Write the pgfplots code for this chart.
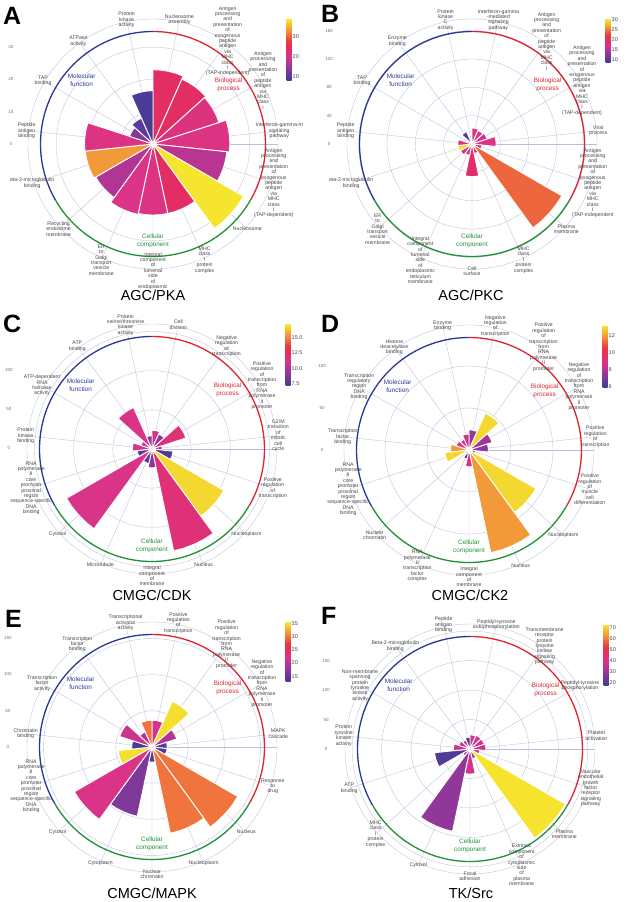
\documentclass[border=0pt]{standalone}
\usepackage{pgfplots}
\pgfplotsset{compat=1.18}
\usepgfplotslibrary{polar}
\usepackage{fontspec}
\setmainfont{Liberation Sans}
\definecolor{gridc}{RGB}{188,188,222}
\definecolor{mfc}{RGB}{40,55,150}
\definecolor{bpc}{RGB}{222,35,45}
\definecolor{ccc}{RGB}{30,145,55}
\definecolor{labc}{RGB}{70,70,70}
\definecolor{tickc}{RGB}{110,110,110}
\pgfplotsset{
  colormap={kin}{rgb255(0cm)=(60,60,150) rgb255(2cm)=(140,55,155) rgb255(4cm)=(218,52,138) rgb255(5.5cm)=(228,45,95) rgb255(6.5cm)=(232,62,62) rgb255(8cm)=(242,140,60) rgb255(10cm)=(245,235,45)},
  rose/.style={
    scale only axis, width=250pt, height=250pt, anchor=center, clip=false,
    xmin=0, xmax=360, ymin=0,
    xtick={6,30,54,78,102,126,150,174,198,222,246,270,294,318,342},
    xticklabels={}, yticklabels={},
    xmajorgrids, ymajorgrids,
    grid style={draw=gridc, line width=0.35pt},
    axis line style={draw=gridc, line width=0.35pt},
    major tick length=0pt,
    colormap name=kin,
    colorbar,
  },
  cbar/.style={scale only axis, width=5pt, height=#1, anchor=north west,
     axis line style={draw=none}, major tick length=0pt,
     yticklabel style={font=\fontsize{5.5}{6}\selectfont, text=labc, inner sep=1pt},
     /pgf/number format/assume math mode=true},
}
\tikzset{
  catlab/.style={font=\fontsize{5.2}{5.4}\selectfont, text=labc, align=center, inner sep=0pt},
  grplab/.style={font=\fontsize{6.4}{8}\selectfont, align=center, inner sep=0pt},
  rtick/.style={font=\fontsize{4.5}{5}\selectfont, text=tickc, inner sep=0pt},
  ttl/.style={font=\fontsize{14.5}{15}\selectfont, anchor=base, inner sep=0pt},
  plet/.style={font=\fontsize{25}{25}\selectfont\bfseries, anchor=base west, inner sep=0pt},
}
\newcommand\wbar[3]{%
  \pgfmathsetmacro\wrA{#1-12}\pgfmathsetmacro\wrB{#1-6}\pgfmathsetmacro\wrC{#1+6}\pgfmathsetmacro\wrD{#1+12}%
  \pgfmathsetmacro\wrF{max(0,min(1000,(#3-\cmin)/(\cmax-\cmin)*1000))}%
  \edef\wrT{\noexpand\addplot[mark=none,color of colormap={\wrF\space of kin},fill=.,draw=white,line width=0.9pt] coordinates {(0,0) (\wrA,#2) (\wrB,#2) (#1,#2) (\wrC,#2) (\wrD,#2)} -- cycle;}%
  \wrT}
\newcommand\cl[2]{\path (axis cs:0,0) ++(#1:127pt) node[catlab] {#2};}
\newcommand\groups{%
  \draw[mfc, line width=1.3pt] (axis cs:0,0) ++(90:112.5pt) arc[start angle=90,end angle=210,radius=112.5pt];
  \draw[bpc, line width=1.3pt] (axis cs:0,0) ++(90:112.5pt) arc[start angle=90,end angle=-30,radius=112.5pt];
  \draw[ccc, line width=1.3pt] (axis cs:0,0) ++(-30:112.5pt) arc[start angle=-30,end angle=-150,radius=112.5pt];
  \path (axis cs:0,0) ++(138:96pt) node[grplab, text=mfc] {Molecular\\function};
  \path (axis cs:0,0) ++(38:96pt) node[grplab, text=bpc] {Biological\\process};
  \path (axis cs:0,0) ++(-90:97pt) node[grplab, text=ccc] {Cellular\\component};
}
\begin{document}
\begin{tikzpicture}[x=1pt,y=1pt]
\useasboundingbox (0pt,0pt) rectangle (633pt,902pt);

% ---------------- A
\def\cmin{7.8}\def\cmax{38.9}
\begin{polaraxis}[rose, at={(153pt,758pt)}, ymax=38.7, ytick={10,20,30},
  point meta min=7.8, point meta max=38.9,
  colorbar style={cbar=62pt, at={([xshift=21pt,yshift=-93pt]parent axis.north east)}, ytick={10,20,30}}]
\wbar{78}{23.0}{24.5}
\wbar{54}{22.0}{24.5}
\wbar{30}{21.5}{21.5}
\wbar{6}{23.8}{21}
\wbar{342}{23.0}{17.5}
\wbar{318}{32.4}{38.5}
\wbar{294}{22.0}{24.5}
\wbar{270}{22.0}{21}
\wbar{246}{22.3}{20.5}
\wbar{222}{20.5}{17}
\wbar{198}{21.1}{33.5}
\wbar{174}{21.2}{21}
\wbar{150}{7.6}{13.5}
\wbar{126}{8.8}{10.5}
\wbar{102}{16.5}{9}
\groups
\cl{102}{Protein\\kinase\\activity}
\cl{78}{Nucleosome\\assembly}
\cl{54}{Antigen\\processing\\and\\presentation\\of\\exogenous\\peptide\\antigen\\via\\MHC\\class\\I\\(TAP-independent)}
\cl{30}{Antigen\\processing\\and\\presentation\\of\\peptide\\antigen\\via\\MHC\\class\\I}
\cl{6}{Interferon-gamma-m\\signaling\\pathway}
\cl{-18}{Antigen\\processing\\and\\presentation\\of\\exogenous\\peptide\\antigen\\via\\MHC\\class\\I\\(TAP-dependent)}
\cl{-42}{Nucleosome}
\cl{-66}{MHC\\class\\I\\protein\\complex}
\cl{-90}{Integral\\component\\of\\lumenal\\side\\of\\endoplasmic}
\cl{-114}{ER\\to\\Golgi\\transport\\vesicle\\membrane}
\cl{-138}{Recycling\\endosome\\membrane}
\cl{-162}{eta-2-microglobulin\\binding}
\cl{174}{Peptide\\antigen\\binding}
\cl{150}{TAP\\binding}
\cl{126}{ATPase\\activity}
\end{polaraxis}

% ---------------- B
\def\cmin{8.5}\def\cmax{30.5}
\begin{polaraxis}[rose, at={(472pt,758pt)}, ymax=176.5, ytick={40,80,120,160},
  point meta min=8.5, point meta max=30.5,
  colorbar style={cbar=44pt, at={([xshift=28pt,yshift=-113pt]parent axis.north east)}, ytick={10,15,20,25,30}}]
\wbar{78}{22.6}{17.5}
\wbar{54}{21}{18}
\wbar{30}{22.6}{16.5}
\wbar{6}{34}{17.5}
\wbar{342}{14}{20}
\wbar{318}{146.5}{24.5}
\wbar{294}{14}{20}
\wbar{270}{46}{20}
\wbar{246}{16.5}{18}
\wbar{222}{19}{18}
\wbar{198}{20}{30}
\wbar{174}{20}{18}
\wbar{150}{7}{17}
\wbar{126}{19}{9.5}
\wbar{102}{6}{12}
\groups
\cl{102}{Protein\\kinase\\C\\activity}
\cl{78}{Interferon-gamma\\-mediated\\signaling\\pathway}
\cl{54}{Antigen\\processing\\and\\presentation\\of\\peptide\\antigen\\via\\MHC\\class\\I}
\cl{30}{Antigen\\processing\\and\\presentation\\of\\exogenous\\peptide\\antigen\\via\\MHC\\class\\I\\(TAP-dependent)}
\cl{6}{Viral\\process}
\cl{-18}{Antigen\\processing\\and\\presentation\\of\\exogenous\\peptide\\antigen\\via\\MHC\\class\\I\\(TAP-independent}
\cl{-42}{Plasma\\membrane}
\cl{-66}{MHC\\class\\I\\protein\\complex}
\cl{-90}{Cell\\surface}
\cl{-114}{Integral\\component\\of\\lumenal\\side\\of\\endoplasmic\\reticulum\\membrane}
\cl{-138}{ER\\to\\Golgi\\transport\\vesicle\\membrane}
\cl{-162}{eta-2-microglobulin\\binding}
\cl{174}{Peptide\\antigen\\binding}
\cl{150}{TAP\\binding}
\cl{126}{Enzyme\\binding}
\end{polaraxis}

% ---------------- C
\def\cmin{7.1}\def\cmax{17.2}
\begin{polaraxis}[rose, at={(152pt,453pt)}, ymax=159.6, ytick={50,100,150},
  point meta min=7.1, point meta max=17.2,
  colorbar style={cbar=62pt, at={([xshift=18pt,yshift=-94pt]parent axis.north east)}, ytick={7.5,10,12.5,15},
    yticklabel style={/pgf/number format/.cd, fixed, fixed zerofill, precision=1}}]
\wbar{78}{24}{11}
\wbar{54}{21}{9.3}
\wbar{30}{45.5}{11.8}
\wbar{6}{13}{11}
\wbar{342}{27}{7.5}
\wbar{318}{106}{16.8}
\wbar{294}{133}{11.8}
\wbar{270}{24}{9}
\wbar{246}{19}{8}
\wbar{222}{126}{11.2}
\wbar{198}{19}{7.8}
\wbar{174}{25}{11}
\wbar{150}{15}{11}
\wbar{126}{58}{11.3}
\wbar{102}{17}{9}
\groups
\cl{102}{Protein\\serine/threonine\\kinase\\activity}
\cl{78}{Cell\\division}
\cl{54}{Negative\\regulation\\of\\transcription}
\cl{30}{Positive\\regulation\\of\\transcription\\from\\RNA\\polymerase\\II\\promoter}
\cl{6}{G2/M\\transition\\of\\mitotic\\cell\\cycle}
\cl{-18}{Positive\\regulation\\of\\transcription}
\cl{-42}{Nucleoplasm}
\cl{-66}{Nucleus}
\cl{-90}{Integral\\component\\of\\membrane}
\cl{-114}{Microtubule}
\cl{-138}{Cytosol}
\cl{-162}{RNA\\polymerase\\II\\core\\promoter\\proximal\\region\\sequence-specific\\DNA\\binding}
\cl{174}{Protein\\kinase\\binding}
\cl{150}{ATP-dependent\\RNA\\helicase\\activity}
\cl{126}{ATP\\binding}
\end{polaraxis}

% ---------------- D
\def\cmin{5.8}\def\cmax{13.3}
\begin{polaraxis}[rose, at={(469pt,452pt)}, ymax=148.8, ytick={50,100},
  point meta min=5.8, point meta max=13.3,
  colorbar style={cbar=63pt, at={([xshift=20pt,yshift=-93pt]parent axis.north east)}, ytick={6,8,10,12}}]
\wbar{78}{24}{7.5}
\wbar{54}{48}{13}
\wbar{30}{29}{7.8}
\wbar{6}{23}{7.3}
\wbar{342}{8}{7}
\wbar{318}{92}{13}
\wbar{294}{125}{12}
\wbar{270}{20}{9}
\wbar{246}{11}{6.5}
\wbar{222}{6}{7}
\wbar{198}{29}{13}
\wbar{174}{22}{12}
\wbar{150}{16}{8.8}
\wbar{126}{14}{8.7}
\wbar{102}{19}{8.5}
\groups
\cl{102}{Enzyme\\binding}
\cl{78}{Negative\\regulation\\of\\transcription}
\cl{54}{Positive\\regulation\\of\\transcription\\from\\RNA\\polymerase\\II\\promoter}
\cl{30}{Negative\\regulation\\of\\transcription\\from\\RNA\\polymerase\\II\\promoter}
\cl{6}{Positive\\regulation\\of\\transcription}
\cl{-18}{Positive\\regulation\\of\\muscle\\cell\\differentiation}
\cl{-42}{Nucleoplasm}
\cl{-66}{Nucleus}
\cl{-90}{Integral\\component\\of\\membrane}
\cl{-114}{RNA\\polymerase\\II\\transcription\\factor\\complex}
\cl{-138}{Nuclear\\chromatin}
\cl{-162}{RNA\\polymerase\\II\\core\\promoter\\proximal\\region\\sequence-specific\\DNA\\binding}
\cl{174}{Transcription\\factor\\binding}
\cl{150}{Transcription\\regulatory\\region\\DNA\\binding}
\cl{126}{Histone\\deacetylase\\binding}
\end{polaraxis}

% ---------------- E
\def\cmin{12.8}\def\cmax{35.6}
\begin{polaraxis}[rose, at={(152pt,155pt)}, ymax=172.9, ytick={50,100,150},
  point meta min=12.8, point meta max=35.6,
  colorbar style={cbar=60pt, at={([xshift=16pt,yshift=-95pt]parent axis.north east)}, ytick={15,20,25,30,35}}]
\wbar{78}{37}{21.5}
\wbar{54}{69}{35}
\wbar{30}{36}{19.5}
\wbar{6}{21}{14}
\wbar{342}{21}{14}
\wbar{318}{137}{30}
\wbar{294}{122}{30}
\wbar{270}{21}{14.5}
\wbar{246}{98}{16.5}
\wbar{222}{124}{22}
\wbar{198}{47}{35}
\wbar{174}{28}{13.5}
\wbar{150}{47}{21}
\wbar{126}{23}{20}
\wbar{102}{37}{30}
\groups
\cl{102}{Transcriptional\\activator\\activity}
\cl{78}{Positive\\regulation\\of\\transcription}
\cl{54}{Positive\\regulation\\of\\transcription\\from\\RNA\\polymerase\\II\\promoter}
\cl{30}{Negative\\regulation\\of\\transcription\\from\\RNA\\polymerase\\II\\promoter}
\cl{6}{MAPK\\cascade}
\cl{-18}{Response\\to\\drug}
\cl{-42}{Nucleus}
\cl{-66}{Nucleoplasm}
\cl{-90}{Nuclear\\chromatin}
\cl{-114}{Cytoplasm}
\cl{-138}{Cytosol}
\cl{-162}{RNA\\polymerase\\II\\core\\promoter\\proximal\\region\\sequence-specific\\DNA\\binding}
\cl{174}{Chromatin\\binding}
\cl{150}{Transcription\\factor\\activity}
\cl{126}{Transcription\\factor\\binding}
\end{polaraxis}

% ---------------- F
\def\cmin{17}\def\cmax{73}
\begin{polaraxis}[rose, at={(470pt,153pt)}, ymax=212.2, ytick={50,100,150,200},
  point meta min=17, point meta max=73,
  colorbar style={cbar=62pt, at={([xshift=19pt,yshift=-94pt]parent axis.north east)}, ytick={20,30,40,50,60,70}}]
\wbar{78}{24}{38}
\wbar{54}{25.5}{38}
\wbar{30}{25.5}{38}
\wbar{6}{27}{38}
\wbar{342}{17}{37}
\wbar{318}{187}{72}
\wbar{294}{17}{30}
\wbar{270}{42.5}{38}
\wbar{246}{143}{29}
\wbar{222}{14}{36}
\wbar{198}{60.5}{20}
\wbar{174}{28}{38}
\wbar{150}{20}{36}
\wbar{126}{17}{36}
\wbar{102}{20}{19}
\groups
\cl{102}{Peptide\\antigen\\binding}
\cl{78}{Peptidyl-tyrosine\\autophosphorylation}
\cl{54}{Transmembrane\\receptor\\protein\\tyrosine\\kinase\\signaling\\pathway}
\cl{30}{Peptidyl-tyrosine\\phosphorylation}
\cl{6}{Platelet\\activation}
\cl{-18}{Vascular\\endothelial\\growth\\factor\\receptor\\signaling\\pathway}
\cl{-42}{Plasma\\membrane}
\cl{-66}{Extrinsic\\component\\of\\cytoplasmic\\side\\of\\plasma\\membrane}
\cl{-90}{Focal\\adhesion}
\cl{-114}{Cytosol}
\cl{-138}{MHC\\class\\I\\protein\\complex}
\cl{-162}{ATP\\binding}
\cl{174}{Protein\\tyrosine\\kinase\\activity}
\cl{150}{Non-membrane\\spanning\\protein\\tyrosine\\kinase\\activity}
\cl{126}{Beta-2-microglobulin\\binding}
\end{polaraxis}

% left radial labels
\node[rtick] at (11pt,758pt) {0};\node[rtick] at (11pt,790.3pt) {10};\node[rtick] at (11pt,822.6pt) {20};\node[rtick] at (11pt,854.9pt) {30};
\node[rtick] at (329pt,758pt) {0};\node[rtick] at (329pt,786.3pt) {40};\node[rtick] at (329pt,814.6pt) {80};\node[rtick] at (329pt,843pt) {120};\node[rtick] at (329pt,871.3pt) {160};
\node[rtick] at (9pt,453.7pt) {0};\node[rtick] at (9pt,492.9pt) {50};\node[rtick] at (9pt,532pt) {100};
\node[rtick] at (322pt,452pt) {0};\node[rtick] at (322pt,494pt) {50};\node[rtick] at (322pt,536pt) {100};
\node[rtick] at (8pt,155.3pt) {0};\node[rtick] at (8pt,191.5pt) {50};\node[rtick] at (8pt,227.6pt) {100};\node[rtick] at (8pt,263.8pt) {150};
\node[rtick] at (326pt,153pt) {0};\node[rtick] at (326pt,182.5pt) {50};\node[rtick] at (326pt,211.9pt) {100};\node[rtick] at (326pt,241.4pt) {150};

% titles and letters
\node[ttl] at (153pt,601pt) {AGC/PKA};
\node[ttl] at (471pt,601pt) {AGC/PKC};
\node[ttl] at (152pt,301pt) {CMGC/CDK};
\node[ttl] at (470pt,301pt) {CMGC/CK2};
\node[ttl] at (152pt,4pt) {CMGC/MAPK};
\node[ttl] at (471pt,4pt) {TK/Src};
\node[plet] at (3pt,877pt) {A};
\node[plet] at (321pt,879pt) {B};
\node[plet] at (3pt,569pt) {C};
\node[plet] at (321pt,569pt) {D};
\node[plet] at (5pt,274pt) {E};
\node[plet] at (321pt,277pt) {F};
\end{tikzpicture}
\end{document}
